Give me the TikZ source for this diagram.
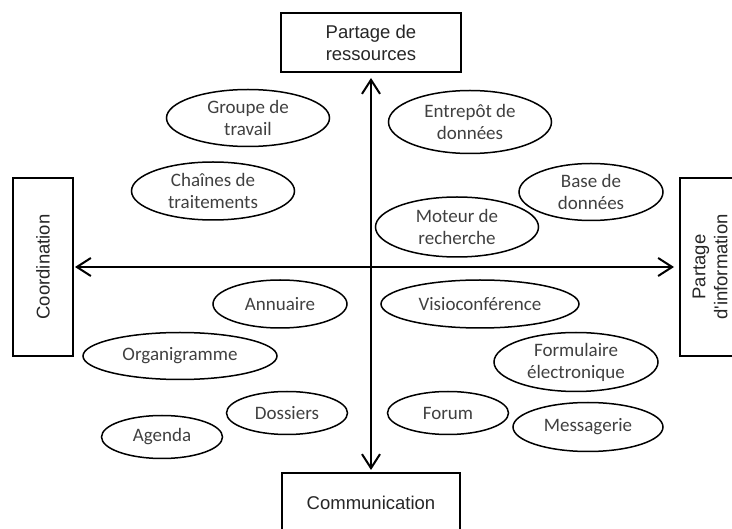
\documentclass[tikz,border=0pt]{standalone}
\usepackage{fontspec}
\setmainfont{Carlito}
\newfontfamily\arialfont{Liberation Sans}
\usetikzlibrary{shapes.geometric,arrows.meta}

\tikzset{
  bulle/.style={ellipse,draw=black,line width=1.5pt,inner sep=0pt,text=black!75,align=center,font=\fontsize{19}{22}\selectfont},
  pole/.style={rectangle,draw=black,line width=2pt,fill=white,inner sep=0pt,text=black!85,align=center,font=\arialfont\fontsize{18.5}{22}\selectfont},
}

\begin{document}
\begin{tikzpicture}[x=1pt,y=-1pt,>={Straight Barb[length=14pt,width=18pt]}]
\useasboundingbox (0,0) rectangle (732,529);
% les quatre poles
\node at (371,42.5)[pole,minimum width=180,minimum height=59](ressources){Partage de\\ressources};
\node at (371,502.5)[pole,minimum width=178,minimum height=59](communication){Communication};
\node at (43,267)[pole,minimum width=178,minimum height=60,rotate=90](coordination){Coordination};
\node at (710,267)[pole,minimum width=178,minimum height=60,rotate=90](information){Partage\\d'information};
% axes
\draw[<->,line width=2pt,shorten <=5pt,shorten >=2pt](ressources)--(communication);
\draw[<->,line width=2pt,shorten <=1pt,shorten >=5pt](coordination)--(information);
% outils
\node at (248,118)[bulle,minimum width=163,minimum height=57](groupe){Groupe de\\travail};
\node at (213,191)[bulle,minimum width=163,minimum height=58](chaines){Chaînes de\\traitements};
\node at (470,122)[bulle,minimum width=163,minimum height=63](entrepot){Entrepôt de\\données};
\node at (591,192)[bulle,minimum width=144,minimum height=57](base){Base de\\données};
\node at (457,227)[bulle,minimum width=163,minimum height=60](moteur){Moteur de\\recherche};
\node at (280,304)[bulle,minimum width=134,minimum height=48](annuaire){Annuaire};
\node at (480,304)[bulle,minimum width=198,minimum height=48](visio){Visioconférence};
\node at (180,356)[bulle,minimum width=194,minimum height=47](organigramme){Organigramme};
\node at (576,362)[bulle,minimum width=164,minimum height=59](formulaire){Formulaire\\électronique};
\node at (287,413)[bulle,minimum width=121,minimum height=43](dossiers){Dossiers};
\node at (162,437)[bulle,minimum width=121,minimum height=43](agenda){Agenda};
\node at (448,413)[bulle,minimum width=121,minimum height=43](forum){Forum};
\node at (588,427)[bulle,minimum width=150,minimum height=49](messagerie){Messagerie};
\end{tikzpicture}
\end{document}
